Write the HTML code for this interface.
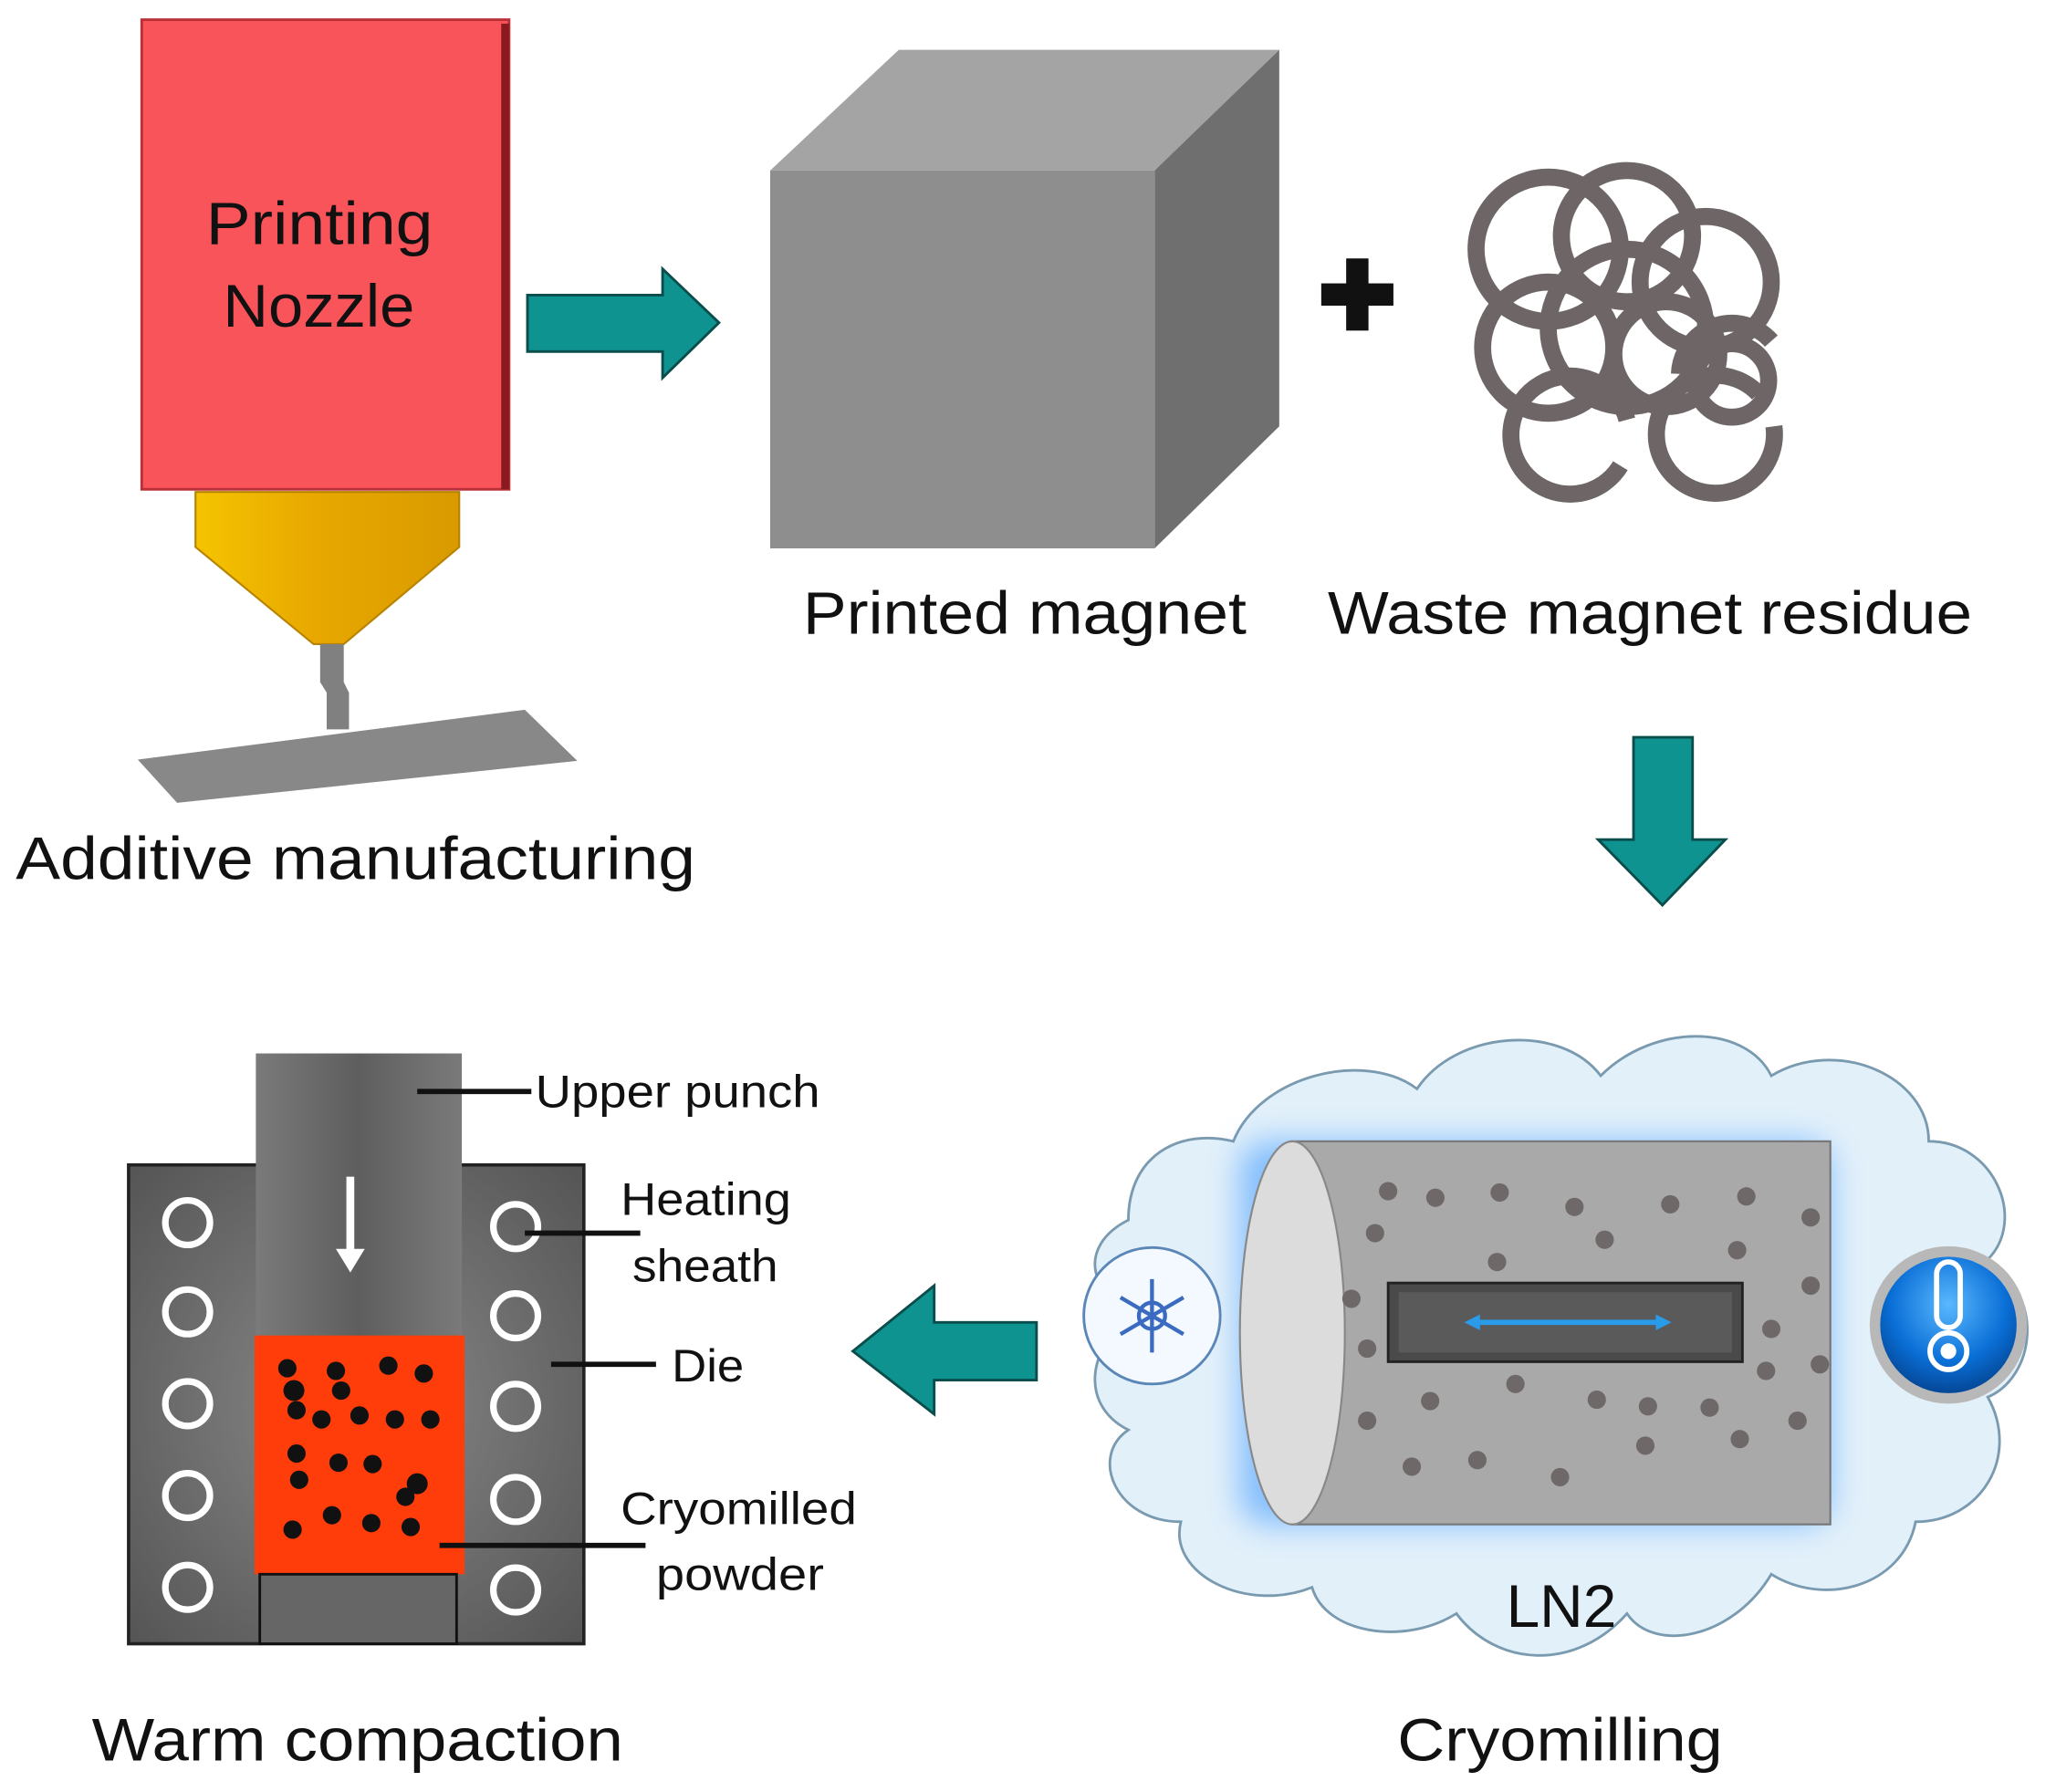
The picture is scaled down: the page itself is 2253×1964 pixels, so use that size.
<!DOCTYPE html>
<html><head><meta charset="utf-8"><style>
html,body{margin:0;padding:0;background:#fff;}
svg{display:block;}
text{font-family:"Liberation Sans",sans-serif;fill:#111;}
</style></head><body>
<svg width="2253" height="1964" viewBox="0 0 1567 1366" preserveAspectRatio="none" xmlns="http://www.w3.org/2000/svg">
<defs>
<linearGradient id="gold" x1="0" y1="0" x2="1" y2="0"><stop offset="0" stop-color="#f5c400"/><stop offset="0.45" stop-color="#e8a800"/><stop offset="1" stop-color="#d99a00"/></linearGradient>
<radialGradient id="die" cx="0.5" cy="0.5" r="0.7"><stop offset="0" stop-color="#8a8a8a"/><stop offset="1" stop-color="#555"/></radialGradient>
<linearGradient id="punch" x1="0" y1="0" x2="1" y2="0"><stop offset="0" stop-color="#7a7a7a"/><stop offset="0.5" stop-color="#5e5e5e"/><stop offset="1" stop-color="#7a7a7a"/></linearGradient>
<radialGradient id="therm" cx="0.5" cy="0.35" r="0.7"><stop offset="0" stop-color="#5ab8ff"/><stop offset="0.6" stop-color="#0a6fd6"/><stop offset="1" stop-color="#033f8a"/></radialGradient>
<filter id="glow" x="-20%" y="-20%" width="140%" height="140%"><feGaussianBlur stdDeviation="12"/></filter>
</defs>

<rect x="108" y="15" width="280" height="358" fill="#f9545a" stroke="#b83038" stroke-width="2"/>
<rect x="382" y="18" width="6" height="355" fill="#8a1a20"/>
<text x="157" y="186" font-size="46" textLength="173" lengthAdjust="spacingAndGlyphs" fill="#3a0a0a">Printing</text>
<text x="170" y="249" font-size="46" textLength="146" lengthAdjust="spacingAndGlyphs" fill="#3a0a0a">Nozzle</text>
<polygon points="149,375 350,375 350,417 262,491 239,491 149,417" fill="url(#gold)" stroke="#b88400" stroke-width="1.5"/>
<path d="M244,491 L262,491 L262,520 L266,528 L266,556 L249,556 L249,528 L244,520 Z" fill="#808080"/>
<polygon points="105,579 400,541 440,580 135,612" fill="#888"/>
<text x="12" y="670" font-size="46" textLength="518" lengthAdjust="spacingAndGlyphs">Additive manufacturing</text>

<polygon points="402,225 505,225 505,205 548,246 505,288 505,268 402,268" fill="#0e9390" stroke="#0a4d4b" stroke-width="2"/>

<polygon points="587,130 685,38 975,38 880,130" fill="#a4a4a4"/>
<polygon points="880,130 975,38 975,325 880,418" fill="#6f6f6f"/>
<rect x="587" y="130" width="293" height="288" fill="#8e8e8e"/>
<text x="612" y="483" font-size="46" textLength="338" lengthAdjust="spacingAndGlyphs">Printed magnet</text>

<rect x="1007" y="216" width="55" height="17" fill="#111"/>
<rect x="1026" y="197" width="17" height="55" fill="#111"/>

<g fill="none" stroke="#6e6666" stroke-width="13">
<circle cx="1180" cy="190" r="55"/>
<circle cx="1240" cy="180" r="50"/>
<circle cx="1300" cy="215" r="50"/>
<circle cx="1240" cy="250" r="60"/>
<circle cx="1180" cy="265" r="50"/>
<circle cx="1270" cy="270" r="40"/>
<circle cx="1320" cy="290" r="28"/>
<path d="M1240,320 A45,45 0 1 0 1235,355"/>
<path d="M1352,325 A45,45 0 1 1 1340,300"/>
<path d="M1280,285 A40,40 0 0 1 1350,260"/>
</g>
<text x="1012" y="483" font-size="46" textLength="491" lengthAdjust="spacingAndGlyphs">Waste magnet residue</text>

<polygon points="1245,562 1290,562 1290,640 1315,640 1267,690 1218,640 1245,640" fill="#0e9390" stroke="#0a4d4b" stroke-width="2"/>
<polygon points="790,1008 712,1008 712,980 650,1030 712,1078 712,1052 790,1052" fill="#0e9390" stroke="#0a4d4b" stroke-width="2"/>

<path d="M870,1000 C830,990 820,950 860,930 C860,880 900,860 940,870 C960,820 1040,800 1080,830 C1110,785 1190,780 1220,820 C1260,780 1330,780 1350,820 C1400,790 1470,820 1470,870 C1520,870 1545,930 1515,960 C1560,990 1550,1050 1515,1065 C1540,1110 1510,1160 1460,1160 C1450,1210 1390,1225 1350,1200 C1320,1250 1260,1260 1240,1230 C1200,1275 1140,1270 1110,1230 C1070,1255 1010,1245 1000,1210 C950,1230 890,1200 900,1160 C850,1160 830,1110 860,1090 C820,1070 830,1020 870,1000 Z" fill="#e2f0fa" stroke="#7a9ab0" stroke-width="2"/>
<rect x="945" y="870" width="450" height="292" rx="20" fill="#5aa8ff" opacity="0.7" filter="url(#glow)"/>
<rect x="985" y="870" width="410" height="292" fill="#a9a9a9" stroke="#777" stroke-width="1.5"/>
<ellipse cx="985" cy="1016" rx="40" ry="146" fill="#dcdcdc" stroke="#888" stroke-width="1.5"/>
<g fill="#6e6868">
<circle cx="1058" cy="908" r="7"/><circle cx="1094" cy="913" r="7"/><circle cx="1143" cy="909" r="7"/><circle cx="1200" cy="920" r="7"/><circle cx="1273" cy="918" r="7"/><circle cx="1331" cy="912" r="7"/><circle cx="1380" cy="928" r="7"/>
<circle cx="1048" cy="940" r="7"/><circle cx="1223" cy="945" r="7"/><circle cx="1324" cy="953" r="7"/><circle cx="1141" cy="962" r="7"/>
<circle cx="1030" cy="990" r="7"/><circle cx="1380" cy="980" r="7"/><circle cx="1350" cy="1013" r="7"/><circle cx="1042" cy="1028" r="7"/><circle cx="1346" cy="1045" r="7"/><circle cx="1387" cy="1040" r="7"/>
<circle cx="1155" cy="1055" r="7"/><circle cx="1090" cy="1068" r="7"/><circle cx="1217" cy="1067" r="7"/><circle cx="1256" cy="1072" r="7"/><circle cx="1303" cy="1073" r="7"/><circle cx="1042" cy="1083" r="7"/><circle cx="1370" cy="1083" r="7"/>
<circle cx="1254" cy="1102" r="7"/><circle cx="1326" cy="1097" r="7"/><circle cx="1076" cy="1118" r="7"/><circle cx="1126" cy="1113" r="7"/><circle cx="1189" cy="1126" r="7"/>
</g>
<rect x="1058" y="978" width="270" height="60" fill="#4a4a4a" stroke="#222" stroke-width="2"/>
<rect x="1066" y="985" width="254" height="46" fill="#5a5a5a"/>
<line x1="1122" y1="1008" x2="1268" y2="1008" stroke="#2a9be8" stroke-width="4"/>
<polygon points="1116,1008 1128,1002 1128,1014" fill="#2a9be8"/>
<polygon points="1274,1008 1262,1002 1262,1014" fill="#2a9be8"/>
<circle cx="878" cy="1003" r="52" fill="#f4f9ff" stroke="#5a86b8" stroke-width="2"/>
<g stroke="#3a6bc0" stroke-width="3" fill="none">
<line x1="878" y1="975" x2="878" y2="1031"/><line x1="854" y1="989" x2="902" y2="1017"/><line x1="854" y1="1017" x2="902" y2="989"/>
<circle cx="878" cy="1003" r="10"/>
</g>
<circle cx="1485" cy="1010" r="60" fill="#b8b8b8"/>
<circle cx="1485" cy="1010" r="52" fill="url(#therm)"/>
<rect x="1476" y="962" width="18" height="50" rx="9" fill="none" stroke="#fff" stroke-width="4"/>
<circle cx="1485" cy="1030" r="14" fill="none" stroke="#fff" stroke-width="4"/>
<circle cx="1485" cy="1030" r="6" fill="#fff"/>
<text x="1148" y="1240" font-size="46" textLength="84" lengthAdjust="spacingAndGlyphs">LN2</text>
<text x="1065" y="1342" font-size="46" textLength="248" lengthAdjust="spacingAndGlyphs">Cryomilling</text>

<rect x="98" y="888" width="347" height="365" fill="url(#die)" stroke="#222" stroke-width="2.5"/>
<rect x="195" y="803" width="157" height="218" fill="url(#punch)"/>
<rect x="194" y="1018" width="160" height="182" fill="#ff3d0a"/>
<rect x="198" y="1200" width="150" height="53" fill="#666" stroke="#111" stroke-width="2"/>
<line x1="267" y1="897" x2="267" y2="960" stroke="#fff" stroke-width="6"/>
<polygon points="256,952 278,952 267,970" fill="#fff"/>
<g fill="none" stroke="#fff" stroke-width="5">
<circle cx="143" cy="932" r="17"/><circle cx="143" cy="1000" r="17"/><circle cx="143" cy="1070" r="17"/><circle cx="143" cy="1140" r="17"/><circle cx="143" cy="1210" r="17"/>
<circle cx="393" cy="935" r="17"/><circle cx="393" cy="1003" r="17"/><circle cx="393" cy="1072" r="17"/><circle cx="393" cy="1143" r="17"/><circle cx="393" cy="1212" r="17"/>
</g>
<g fill="#111">
<circle cx="219" cy="1043" r="7"/><circle cx="256" cy="1045" r="7"/><circle cx="296" cy="1041" r="7"/><circle cx="323" cy="1047" r="7"/>
<circle cx="224" cy="1060" r="8"/><circle cx="260" cy="1060" r="7"/><circle cx="226" cy="1075" r="7"/><circle cx="245" cy="1082" r="7"/><circle cx="274" cy="1079" r="7"/><circle cx="301" cy="1082" r="7"/><circle cx="328" cy="1082" r="7"/>
<circle cx="226" cy="1108" r="7"/><circle cx="258" cy="1115" r="7"/><circle cx="284" cy="1116" r="7"/><circle cx="228" cy="1128" r="7"/><circle cx="318" cy="1131" r="8"/><circle cx="309" cy="1141" r="7"/>
<circle cx="223" cy="1166" r="7"/><circle cx="253" cy="1155" r="7"/><circle cx="283" cy="1161" r="7"/><circle cx="313" cy="1164" r="7"/>
</g>
<g stroke="#111" stroke-width="4">
<line x1="318" y1="832" x2="405" y2="832"/>
<line x1="400" y1="940" x2="488" y2="940"/>
<line x1="420" y1="1040" x2="500" y2="1040"/>
<line x1="335" y1="1178" x2="492" y2="1178"/>
</g>
<g font-size="35">
<text x="408" y="844" textLength="217" lengthAdjust="spacingAndGlyphs">Upper punch</text>
<text x="473" y="926" textLength="130" lengthAdjust="spacingAndGlyphs">Heating</text>
<text x="482" y="977" textLength="111" lengthAdjust="spacingAndGlyphs">sheath</text>
<text x="512" y="1053" textLength="55" lengthAdjust="spacingAndGlyphs">Die</text>
<text x="473" y="1162" textLength="180" lengthAdjust="spacingAndGlyphs">Cryomilled</text>
<text x="500" y="1212" textLength="128" lengthAdjust="spacingAndGlyphs">powder</text>
</g>
<text x="70" y="1342" font-size="46" textLength="405" lengthAdjust="spacingAndGlyphs">Warm compaction</text>
</svg>
</body></html>
